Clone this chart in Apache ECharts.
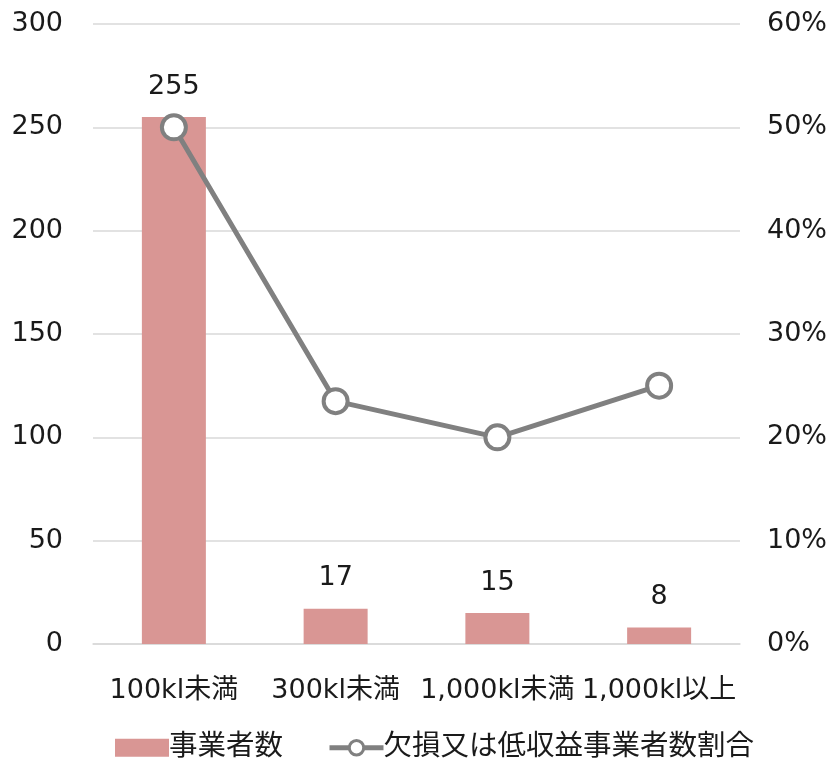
<!DOCTYPE html>
<html>
<head>
<meta charset="utf-8">
<script src="https://cdn.jsdelivr.net/npm/echarts@6/dist/echarts.min.js"></script>
<style>
  html, body { margin: 0; padding: 0; background: #fff; }
  #chart { width: 835px; height: 767px; }
</style>
</head>
<body>
<div id="chart"></div>
<script>
// Categories by sales volume band
const categories = ['100kl未満', '300kl未満', '1,000kl未満', '1,000kl以上'];
// Number of operators per band
const operatorCounts = [255, 17, 15, 8];
// Share of operators in deficit or low profit (percent)
const lossShare = [50, 23.5, 20, 25];
const countTicks = { min: 0, max: 300, interval: 50 };
const shareTicks = { min: 0, max: 60, interval: 10 };

const FONT = '"DejaVu Sans", "Noto Sans CJK JP", sans-serif';
const TEXT = '#1a1a1a';
const SIZE = 27;

const chart = echarts.init(document.getElementById('chart'), null, { renderer: 'canvas' });
chart.setOption({
  animation: false,
  textStyle: { fontFamily: FONT },
  grid: { left: 93, right: 95, top: 24, bottom: 123, containLabel: false },
  legend: {
    bottom: 0,
    left: 110,
    itemWidth: 54,
    itemHeight: 18,
    itemGap: 44,
    textStyle: { fontFamily: FONT, fontSize: 28.5, color: TEXT, padding: [0, 0, 0, -5] },
    data: [
      { name: '事業者数', icon: 'rect' },
      {
        name: '欠損又は低収益事業者数割合',
        lineStyle: { width: 5, color: '#808080' },
        itemStyle: { color: '#ffffff', borderColor: '#808080', borderWidth: 3 }
      }
    ]
  },
  xAxis: {
    type: 'category',
    data: categories,
    axisTick: { show: false },
    axisLine: { lineStyle: { color: '#d9d9d9', width: 1.5 } },
    axisLabel: { fontFamily: FONT, fontSize: SIZE, color: TEXT, margin: 33, interval: 0 }
  },
  yAxis: [
    {
      type: 'value',
      min: countTicks.min, max: countTicks.max, interval: countTicks.interval,
      axisLine: { show: false },
      axisTick: { show: false },
      splitLine: { lineStyle: { color: '#d9d9d9', width: 1.5 } },
      axisLabel: { fontFamily: FONT, fontSize: SIZE, color: TEXT, margin: 30 }
    },
    {
      type: 'value',
      min: shareTicks.min, max: shareTicks.max, interval: shareTicks.interval,
      axisLine: { show: false },
      axisTick: { show: false },
      splitLine: { show: false },
      axisLabel: { fontFamily: FONT, fontSize: SIZE, color: TEXT, margin: 27, formatter: '{value}%' }
    }
  ],
  series: [
    {
      name: '事業者数',
      type: 'bar',
      data: operatorCounts,
      barWidth: 64,
      itemStyle: { color: '#D99694' },
      label: {
        show: true, position: 'top', distance: 17,
        fontFamily: FONT, fontSize: SIZE, color: TEXT
      }
    },
    {
      name: '欠損又は低収益事業者数割合',
      type: 'line',
      yAxisIndex: 1,
      data: lossShare,
      symbol: 'circle',
      symbolSize: 24,
      lineStyle: { color: '#808080', width: 5 },
      itemStyle: { color: '#ffffff', borderColor: '#808080', borderWidth: 4 },
      z: 5
    }
  ]
});
</script>
</body>
</html>
